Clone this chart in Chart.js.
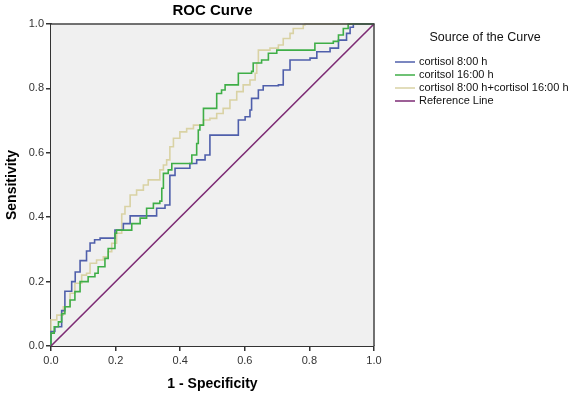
<!DOCTYPE html>
<html>
<head>
<meta charset="utf-8">
<script src="https://cdn.jsdelivr.net/npm/chart.js"></script>
<style>
  html, body { margin: 0; padding: 0; background: #fff; }
  #wrap { width: 577px; height: 398px; }
</style>
</head>
<body>
<div id="wrap"><canvas id="rocChart" width="577" height="398"></canvas></div>
<script>
// ROC curve data (1 - specificity, sensitivity)
const cort8Fpr = [0, 0, 0.012, 0.012, 0.033, 0.033, 0.043, 0.043, 0.064, 0.064, 0.075, 0.09, 0.11, 0.121, 0.135, 0.152, 0.193, 0.198, 0.224, 0.245, 0.317, 0.327, 0.353, 0.368, 0.368, 0.384, 0.42, 0.43, 0.451, 0.477, 0.492, 0.492, 0.57, 0.58, 0.601, 0.616, 0.621, 0.642, 0.657, 0.704, 0.719, 0.74, 0.802, 0.823, 0.864, 0.89, 0.915, 0.926, 0.936, 1];
const cort8Tpr = [0, 0.045, 0.045, 0.06, 0.06, 0.11, 0.11, 0.17, 0.17, 0.2, 0.23, 0.265, 0.295, 0.32, 0.33, 0.335, 0.335, 0.36, 0.38, 0.404, 0.404, 0.428, 0.438, 0.455, 0.53, 0.552, 0.552, 0.567, 0.578, 0.593, 0.605, 0.655, 0.655, 0.702, 0.712, 0.733, 0.769, 0.795, 0.808, 0.811, 0.857, 0.888, 0.894, 0.914, 0.925, 0.95, 0.971, 0.99, 1, 1];

const cort16Fpr = [0, 0, 0.01, 0.01, 0.023, 0.033, 0.043, 0.059, 0.074, 0.09, 0.115, 0.136, 0.146, 0.167, 0.177, 0.198, 0.203, 0.245, 0.25, 0.276, 0.296, 0.317, 0.337, 0.343, 0.348, 0.363, 0.374, 0.43, 0.436, 0.451, 0.456, 0.461, 0.472, 0.502, 0.513, 0.528, 0.539, 0.58, 0.621, 0.626, 0.652, 0.673, 0.699, 0.802, 0.817, 0.874, 0.89, 0.905, 0.92, 1];
const cort16Tpr = [0, 0.04, 0.04, 0.06, 0.075, 0.1, 0.122, 0.143, 0.169, 0.2, 0.215, 0.226, 0.246, 0.272, 0.303, 0.35, 0.36, 0.36, 0.38, 0.397, 0.428, 0.443, 0.45, 0.49, 0.536, 0.547, 0.567, 0.567, 0.593, 0.629, 0.671, 0.686, 0.738, 0.738, 0.784, 0.795, 0.811, 0.847, 0.853, 0.879, 0.888, 0.909, 0.919, 0.919, 0.94, 0.946, 0.966, 0.986, 1, 1];

const comboFpr = [0, 0, 0.018, 0.038, 0.059, 0.074, 0.095, 0.11, 0.121, 0.141, 0.162, 0.177, 0.188, 0.203, 0.219, 0.229, 0.245, 0.265, 0.286, 0.301, 0.327, 0.337, 0.348, 0.358, 0.368, 0.379, 0.399, 0.42, 0.441, 0.472, 0.492, 0.513, 0.533, 0.554, 0.575, 0.595, 0.616, 0.632, 0.637, 0.642, 0.678, 0.704, 0.719, 0.74, 0.75, 0.781, 0.786, 1];
const comboTpr = [0, 0.081, 0.096, 0.122, 0.164, 0.195, 0.22, 0.226, 0.257, 0.267, 0.277, 0.293, 0.319, 0.35, 0.41, 0.433, 0.469, 0.484, 0.5, 0.516, 0.516, 0.547, 0.562, 0.578, 0.619, 0.645, 0.665, 0.675, 0.686, 0.702, 0.707, 0.722, 0.738, 0.764, 0.79, 0.811, 0.826, 0.847, 0.879, 0.919, 0.925, 0.935, 0.955, 0.971, 0.986, 0.997, 1, 1];

const refFpr = [0, 1];
const refTpr = [0, 1];

const seriesNames = ['cortisol 8:00 h', 'coritsol 16:00 h', 'cortisol 8:00 h+cortisol 16:00 h', 'Reference Line'];
const seriesColors = ['#4f5fab', '#3fae47', '#d9d2a4', '#7d2b74'];
const axisTicks = [0, 0.2, 0.4, 0.6, 0.8, 1.0];

const FONT = '"Liberation Sans", Arial, sans-serif';

function toPoints(xs, ys) {
    return xs.map((x, i) => ({ x: x, y: ys[i] }));
}

// Grey plot background and the top/right frame
const plotFrame = {
    id: 'plotFrame',
    beforeDatasetsDraw(chart) {
        const { ctx, chartArea: a } = chart;
        ctx.save();
        ctx.fillStyle = '#f0f0f0';
        ctx.fillRect(a.left, a.top, a.right - a.left, a.bottom - a.top);
        ctx.restore();
    },
    afterDraw(chart) {
        const { ctx, chartArea: a } = chart;
        ctx.save();
        ctx.strokeStyle = '#444';
        ctx.lineWidth = 1.5;
        ctx.beginPath();
        ctx.moveTo(a.left, a.top);
        ctx.lineTo(a.right, a.top);
        ctx.lineTo(a.right, a.bottom);
        ctx.stroke();
        ctx.restore();
    }
};

// SPSS-style legend on the right
const sideLegend = {
    id: 'sideLegend',
    afterDraw(chart) {
        const ctx = chart.ctx;
        ctx.save();
        ctx.fillStyle = '#111';
        ctx.textBaseline = 'middle';
        ctx.textAlign = 'center';
        ctx.font = '12.5px ' + FONT;
        ctx.fillText('Source of the Curve', 485, 38);
        ctx.textAlign = 'left';
        ctx.font = '11px ' + FONT;
        chart.data.datasets.forEach((ds, i) => {
            const y = 62 + i * 13;
            ctx.strokeStyle = ds.borderColor;
            ctx.lineWidth = 1.5;
            ctx.beginPath();
            ctx.moveTo(395, y);
            ctx.lineTo(415, y);
            ctx.stroke();
            ctx.fillText(ds.label, 419, y);
        });
        ctx.restore();
    }
};

const tickFmt = v => Number(v).toFixed(1);

const rocChart = new Chart(document.getElementById('rocChart'), {
    type: 'scatter',
    data: {
        datasets: [
            { label: seriesNames[0], data: toPoints(cort8Fpr, cort8Tpr), borderColor: seriesColors[0], stepped: 'before' },
            { label: seriesNames[1], data: toPoints(cort16Fpr, cort16Tpr), borderColor: seriesColors[1], stepped: 'before' },
            { label: seriesNames[2], data: toPoints(comboFpr, comboTpr), borderColor: seriesColors[2], stepped: 'before' },
            { label: seriesNames[3], data: toPoints(refFpr, refTpr), borderColor: seriesColors[3] }
        ].map((ds, i) => Object.assign(ds, {
            showLine: true,
            pointRadius: 0,
            borderWidth: 1.6,
            tension: 0,
            clip: 3,
            order: i === 2 ? 3 : 2 - i
        }))
    },
    options: {
        responsive: false,
        animation: false,
        layout: { padding: { left: 0, right: 203, top: 0, bottom: 0 } },
        plugins: {
            legend: { display: false },
            tooltip: { enabled: false },
            title: {
                display: true,
                text: 'ROC Curve',
                fullSize: false,
                color: '#000',
                font: { family: FONT, size: 15, weight: 'bold' },
                padding: { top: 2, bottom: 4 }
            }
        },
        scales: {
            x: {
                type: 'linear',
                min: 0,
                max: 1,
                afterFit(scale) { scale.height = 52; },
                afterBuildTicks(scale) { scale.ticks = axisTicks.map(v => ({ value: v })); },
                ticks: { callback: tickFmt, color: '#333', padding: 3, maxRotation: 0, font: { family: FONT, size: 11 } },
                grid: { drawOnChartArea: false, drawTicks: true, tickLength: 5, color: '#333', lineWidth: 1.5 },
                border: { display: true, color: '#333', width: 2 },
                title: {
                    display: true,
                    text: '1 - Specificity',
                    color: '#000',
                    font: { family: FONT, size: 14, weight: 'bold' },
                    padding: { top: 0, bottom: 5 }
                }
            },
            y: {
                type: 'linear',
                min: 0,
                max: 1,
                afterFit(scale) { scale.width = 51; },
                afterBuildTicks(scale) { scale.ticks = axisTicks.map(v => ({ value: v })); },
                ticks: { callback: tickFmt, color: '#333', padding: 2, font: { family: FONT, size: 11 } },
                grid: { drawOnChartArea: false, drawTicks: true, tickLength: 5, color: '#333', lineWidth: 1.5 },
                border: { display: true, color: '#333', width: 2 },
                title: {
                    display: true,
                    text: 'Sensitivity',
                    color: '#000',
                    font: { family: FONT, size: 14, weight: 'bold' },
                    padding: { top: 4, bottom: 0 }
                }
            }
        }
    },
    plugins: [plotFrame, sideLegend]
});
</script>
</body>
</html>
